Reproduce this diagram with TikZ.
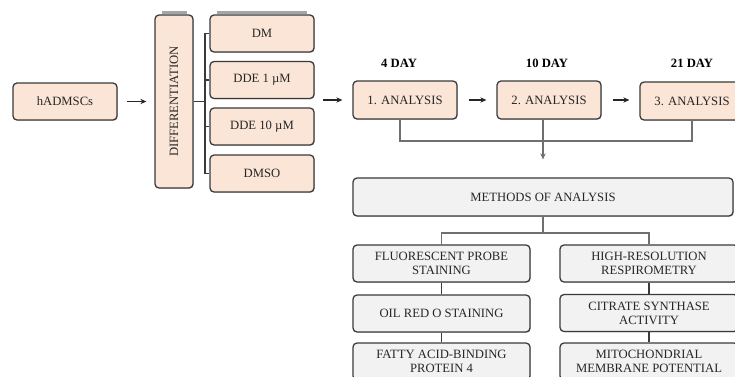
\documentclass[tikz,border=0pt]{standalone}
\usepackage{fontspec}
\setmainfont{Liberation Serif}
\usetikzlibrary{arrows.meta,shadows,calc,positioning}
\definecolor{peach}{HTML}{FBE5D6}
\definecolor{lgray}{HTML}{F2F2F2}
\definecolor{edge}{HTML}{3A3A3A}
\definecolor{conn}{HTML}{6F6F6F}
\tikzset{
  base/.style={draw=edge, line width=0.95pt, rounded corners=3pt, align=center,
    font=\fontsize{9.5}{10.5}\selectfont, text=black!85, inner sep=1pt,
    drop shadow={shadow xshift=0.6pt, shadow yshift=-0.6pt, opacity=0.35}},
  pbox/.style={base, fill=peach},
  gbox/.style={base, fill=lgray},
  daylbl/.style={font=\fontsize{9.5}{10}\selectfont\bfseries, inner sep=0pt},
  arr/.style={draw=black!85, line width=0.9pt, -{Stealth[length=4.5pt,width=4pt]}},
  conline/.style={draw=conn, line width=1.1pt},
  topbar/.style={draw=black!35, line width=1.6pt}
}
\begin{document}
\begin{tikzpicture}[x=0.75pt,y=-0.75pt]
\clip (0,0) rectangle (735,376);
\fill[white] (0,0) rectangle (735,376);
% left part
\node[pbox, minimum width=78pt, minimum height=27.75pt] (h) at (65,101.5) {hADMSCs};
\draw[topbar] (162,12.5) -- (187,12.5);
\draw[topbar] (217,12.5) -- (307,12.5);
\node[pbox, minimum width=28.5pt, minimum height=129.75pt] (d) at (174,101.5) {\rotatebox{90}{DIFFERENTIATION}};
\node[pbox, minimum width=78pt, minimum height=27.75pt] (dm) at (262,33.5) {DM};
\node[pbox, minimum width=78pt, minimum height=27.75pt] (d1) at (262,80) {DDE 1 µM};
\node[pbox, minimum width=78pt, minimum height=27.75pt] (d10) at (262,126.5) {DDE 10 µM};
\node[pbox, minimum width=78pt, minimum height=27.75pt] (dmso) at (262,173.5) {DMSO};
\draw[arr, shorten <=6.75pt, shorten >=6pt] (h.east) -- (d.west |- h.east);
\coordinate (br) at (205,101.5);
\draw[conline, draw=edge, line width=0.8pt] (dm.west) -| (br) |- (dmso.west);
\draw[conline, draw=edge, line width=0.8pt] (d1.west) -- (d1.west -| br);
\draw[conline, draw=edge, line width=0.8pt] (d10.west) -- (d10.west -| br);
\draw[conline, draw=edge, line width=0.8pt] (d.east) -- (br);
% analyses
\node[pbox, minimum width=78pt, minimum height=28.5pt] (a1) at (405,100) {1. ANALYSIS};
\node[pbox, minimum width=78pt, minimum height=28.5pt] (a2) at (549,100) {2. ANALYSIS};
\node[pbox, minimum width=78pt, minimum height=28.5pt] (a3) at (692,101) {3. ANALYSIS};
\node[daylbl] (t1) at (399,63) {4 DAY};
\node[daylbl] (t2) at (547,63) {10 DAY};
\node[daylbl] (t3) at (692,63) {21 DAY};
\coordinate (c0) at (323,100);
\draw[arr, shorten >=7.5pt] (c0) -- (a1.west);
\draw[arr, shorten <=8.25pt, shorten >=7.5pt] (a1.east) -- (a2.west);
\draw[arr, shorten <=8.25pt, shorten >=7.5pt] (a2.east) -- (a3.west |- a2.east);
\coordinate (jl) at (400,141);
\draw[conline] ([xshift=-3.75pt]a1.south) -- (jl) -- (jl -| a3.south) -- (a3.south);
% methods
\node[gbox, minimum width=285pt, minimum height=28.5pt] (m) at (543,197) {METHODS OF ANALYSIS};
\draw[conline, -{Stealth[length=4.5pt,width=4pt,fill=black!85]}, shorten >=13.5pt] ([xshift=-4.5pt]a2.south) -- ([xshift=-4.5pt]a2.south |- m.north);
\node[gbox, minimum width=132.75pt, minimum height=27.75pt] (f1) at (441.5,263.5) {FLUORESCENT PROBE\\STAINING};
\node[gbox, minimum width=132.75pt, minimum height=27.75pt] (f2) at (441.5,313.5) {OIL RED O STAINING};
\node[gbox, minimum width=132.75pt, minimum height=27.75pt] (f3) at (441.5,361.5) {FATTY ACID-BINDING\\PROTEIN 4};
\node[gbox, minimum width=133.5pt, minimum height=27.75pt] (r1) at (649,263.5) {HIGH-RESOLUTION\\RESPIROMETRY};
\node[gbox, minimum width=133.5pt, minimum height=27.75pt] (r2) at (649,313) {CITRATE SYNTHASE\\ACTIVITY};
\node[gbox, minimum width=133.5pt, minimum height=27.75pt] (r3) at (649,361.5) {MITOCHONDRIAL\\MEMBRANE POTENTIAL};
\coordinate (mj) at (543,233);
\draw[conline] (m.south) -- (mj);
\draw[conline] (f1.north) |- (mj) -| (r1.north);
\draw[conline, draw=edge] (f1) -- (f2);
\draw[conline, draw=edge] (f2) -- (f3);
\draw[conline, draw=edge] (r1) -- (r2);
\draw[conline, draw=edge] (r2) -- (r3);
\end{tikzpicture}
\end{document}
